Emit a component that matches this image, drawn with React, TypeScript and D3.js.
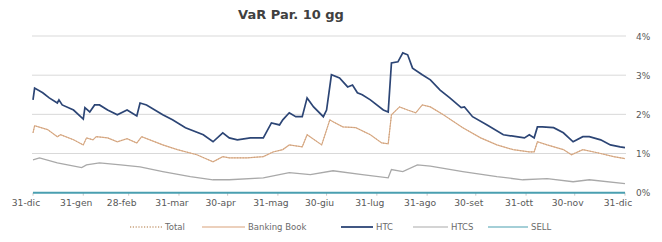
import React from "react";
import * as d3 from "d3";

// day offsets from 31-dic, values in %
const htcDays = [0, 1, 6, 10, 15, 16, 18, 25, 31, 32, 35, 38, 41, 46, 52, 58, 64, 66, 70, 80, 86, 94, 105, 111, 117, 121, 126, 134, 142, 147, 152, 154, 158, 162, 166, 169, 173, 179, 181, 184, 189, 194, 197, 200, 203, 208, 216, 219, 221, 225, 228, 231, 234, 240, 245, 251, 257, 264, 266, 271, 280, 290, 298, 303, 306, 309, 311, 314, 321, 327, 333, 339, 343, 350, 356, 362, 365];
const htcVals = [2.37, 2.67, 2.55, 2.42, 2.29, 2.37, 2.24, 2.11, 1.88, 2.17, 2.06, 2.24, 2.24, 2.11, 1.99, 2.11, 1.96, 2.29, 2.24, 1.99, 1.86, 1.66, 1.48, 1.3, 1.53, 1.4, 1.35, 1.4, 1.4, 1.78, 1.73, 1.86, 2.04, 1.94, 1.94, 2.42, 2.19, 1.94, 2.11, 3.01, 2.93, 2.7, 2.75, 2.55, 2.5, 2.37, 2.11, 2.06, 3.31, 3.34, 3.57, 3.52, 3.18, 3.01, 2.88, 2.62, 2.42, 2.17, 2.19, 1.94, 1.73, 1.48, 1.43, 1.4, 1.48, 1.4, 1.68, 1.68, 1.66, 1.53, 1.3, 1.43, 1.43, 1.35, 1.22, 1.17, 1.15];

const bbDays = [0, 1, 9, 15, 17, 25, 31, 33, 37, 39, 46, 52, 58, 64, 67, 80, 89, 101, 111, 117, 121, 132, 142, 148, 154, 158, 166, 169, 178, 183, 185, 191, 199, 208, 215, 219, 221, 226, 231, 236, 240, 245, 253, 265, 276, 286, 296, 306, 309, 311, 317, 327, 332, 339, 348, 358, 365];
const bbVals = [1.53, 1.71, 1.61, 1.43, 1.48, 1.35, 1.22, 1.4, 1.35, 1.43, 1.4, 1.3, 1.38, 1.27, 1.43, 1.22, 1.1, 0.97, 0.79, 0.92, 0.89, 0.89, 0.92, 1.04, 1.1, 1.22, 1.17, 1.48, 1.22, 1.86, 1.81, 1.68, 1.66, 1.48, 1.27, 1.25, 1.99, 2.19, 2.11, 2.04, 2.24, 2.19, 1.99, 1.66, 1.4, 1.22, 1.1, 1.04, 1.04, 1.3, 1.22, 1.1, 0.97, 1.1, 1.02, 0.92, 0.87];

const htcsDays = [0, 4, 15, 30, 33, 41, 54, 66, 80, 97, 111, 121, 142, 158, 171, 185, 203, 219, 221, 228, 237, 245, 265, 286, 302, 317, 333, 343, 365];
const htcsVals = [0.84, 0.89, 0.76, 0.64, 0.71, 0.76, 0.71, 0.66, 0.54, 0.41, 0.33, 0.33, 0.38, 0.51, 0.46, 0.56, 0.46, 0.38, 0.59, 0.54, 0.71, 0.68, 0.54, 0.41, 0.33, 0.36, 0.28, 0.33, 0.23];

const sellDays = [0, 365];
const sellVals = [0, 0];

// Total coincides with Banking Book (SELL is zero)
const totalDays = bbDays;
const totalVals = bbVals;

const tickDates = ["2017-12-31", "2018-01-31", "2018-02-28", "2018-03-31", "2018-04-30", "2018-05-31", "2018-06-30", "2018-07-31", "2018-08-31", "2018-09-30", "2018-10-31", "2018-11-30", "2018-12-31"];
const tickLabels = ["31-dic", "31-gen", "28-feb", "31-mar", "30-apr", "31-mag", "30-giu", "31-lug", "31-ago", "30-set", "31-ott", "30-nov", "31-dic"];
const yTicks = [0, 1, 2, 3, 4];

const legendItems = [
  { name: "Total", color: "#c9a27e", dash: "1.2,1.6", x1: 130, x2: 162 },
  { name: "Banking Book", color: "#d9a27a", dash: null, x1: 202, x2: 245 },
  { name: "HTC", color: "#2c4575", dash: null, x1: 341, x2: 373 },
  { name: "HTCS", color: "#a9a9a9", dash: null, x1: 413, x2: 448 },
  { name: "SELL", color: "#4a9fb0", dash: null, x1: 488, x2: 528 },
];

const W = 662;
const H = 242;
const margin = { left: 33, right: 37, top: 36, bottom: 49 };
const font = "'DejaVu Sans', Verdana, sans-serif";

const start = new Date(2017, 11, 31);
const parse = d3.timeParse("%Y-%m-%d");

export default function App() {
  const x = d3
    .scaleTime()
    .domain([start, d3.timeDay.offset(start, 365)])
    .range([margin.left, W - margin.right]);
  const y = d3
    .scaleLinear()
    .domain([0, 4])
    .range([H - margin.bottom - 0.3, margin.top]);

  const mk = (days: number[], vals: number[]) =>
    d3
      .line<number>()
      .x((d) => x(d3.timeDay.offset(start, days[d])))
      .y((d) => y(vals[d]))(d3.range(days.length));

  return (
    <svg
      width={W}
      height={H}
      style={{ position: "absolute", left: 0, top: 0, background: "#fff" }}
      fontFamily={font}
    >
      <text x={291} y={19} textAnchor="middle" fontSize={13} fontWeight="bold" fill="#404040">
        VaR Par. 10 gg
      </text>

      {yTicks.map((t) => (
        <g key={t}>
          {t > 0 && (
            <line x1={32} x2={626} y1={y(t)} y2={y(t)} stroke="#d9d9d9" strokeWidth={1} />
          )}
          <text x={636} y={y(t) + 3.5} fontSize={9} fill="#595959">
            {t}%
          </text>
        </g>
      ))}

      {tickDates.map((d, i) => {
        const tx = x(parse(d) as Date);
        return (
          <g key={d + i}>
            <line x1={tx} x2={tx} y1={y(0)} y2={y(0) + 3} stroke="#c8c8c8" />
            <text x={tx - 7} y={206} textAnchor="middle" fontSize={9.2} fill="#595959">
              {tickLabels[i]}
            </text>
          </g>
        );
      })}

      <path d={mk(htcsDays, htcsVals) || ""} fill="none" stroke="#a9a9a9" strokeWidth={1.3} />
      <path d={mk(bbDays, bbVals) || ""} fill="none" stroke="#dfb08c" strokeWidth={1.2} />
      <path d={mk(totalDays, totalVals) || ""} fill="none" stroke="#c9a27e" strokeWidth={1} strokeDasharray="1.2,1.6" />
      <path d={mk(htcDays, htcVals) || ""} fill="none" stroke="#2c4575" strokeWidth={1.7} />
      <path d={mk(sellDays, sellVals) || ""} fill="none" stroke="#4a9fb0" strokeWidth={2} />

      {legendItems.map((l) => (
        <g key={l.name}>
          <line
            x1={l.x1}
            x2={l.x2}
            y1={227}
            y2={227}
            stroke={l.color}
            strokeWidth={l.dash ? 1.3 : l.name === "HTC" ? 1.8 : 1.2}
            strokeDasharray={l.dash || undefined}
          />
          <text x={l.x2 + 3} y={230} fontSize={8.5} fill="#6b6b6b">
            {l.name}
          </text>
        </g>
      ))}
    </svg>
  );
}
